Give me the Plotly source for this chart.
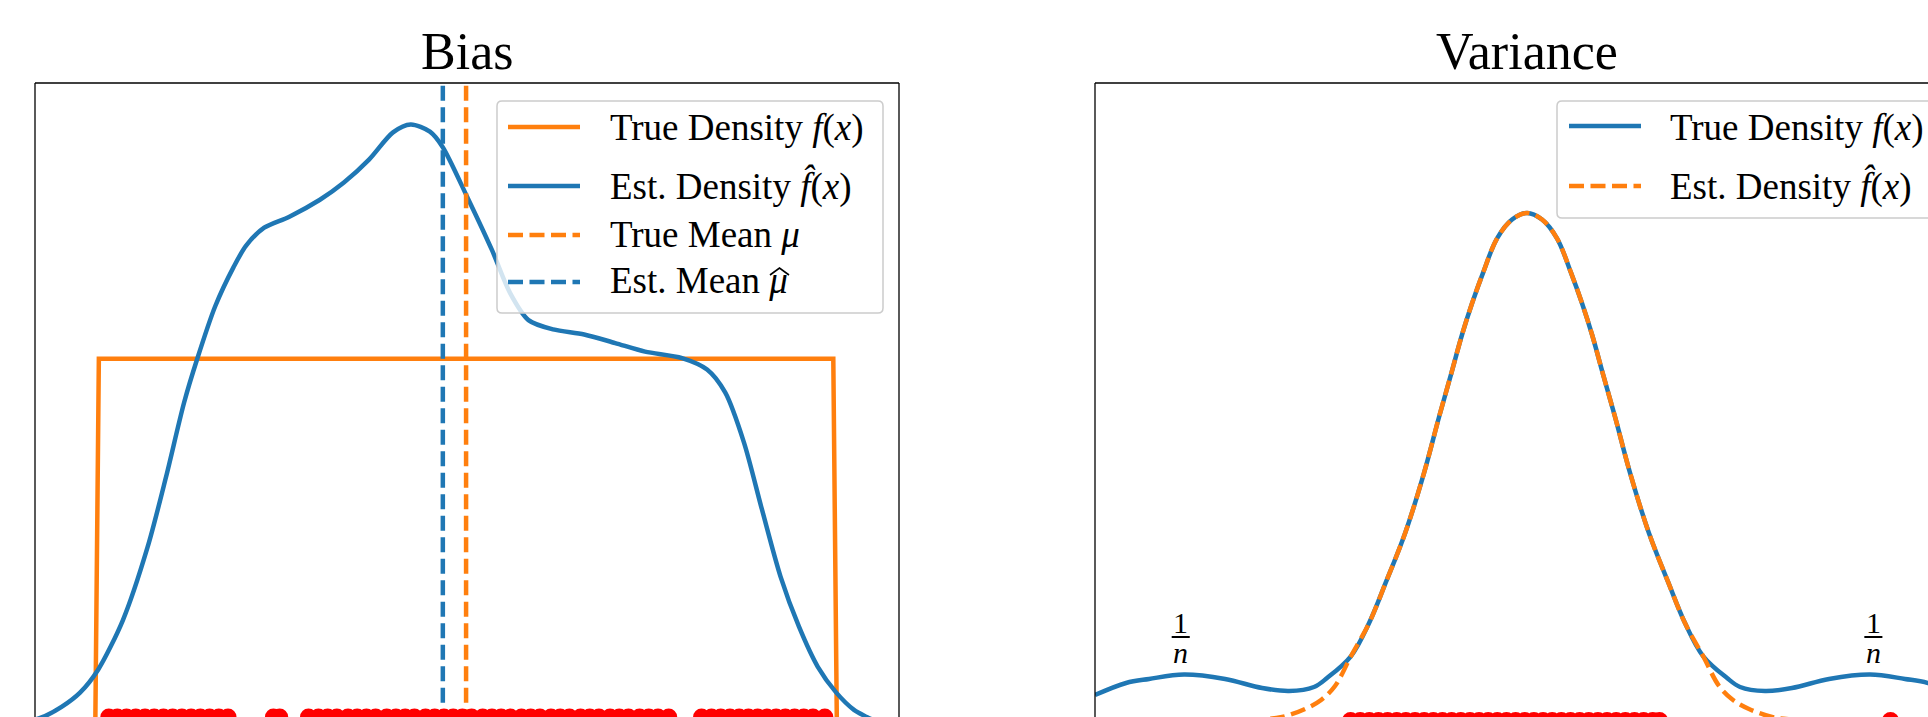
import plotly.graph_objects as go

W, H = 1928, 717
BLUE = "#1f77b4"
ORANGE = "#ff7f0e"
FONT = "Liberation Serif"

# ---------------- Bias panel data ----------------
bias_true_x = [-1.005, -0.995, 0.995, 1.005]
bias_true_y = [-0.03, 0.5, 0.5, -0.03]

bias_kde_x = [-1.17, -1.138, -1.096, -1.046, -0.997, -0.930, -0.863, -0.813, -0.764, -0.729,
              -0.680, -0.630, -0.596, -0.547, -0.480, -0.396, -0.331, -0.263, -0.198, -0.150,
              -0.098, -0.064, 0.003, 0.070, 0.119, 0.169, 0.236, 0.320, 0.404, 0.485,
              0.585, 0.653, 0.702, 0.753, 0.802, 0.852, 0.902, 0.953, 1.003, 1.051,
              1.086, 1.17]
bias_kde_y = [-0.004, 0.002, 0.014, 0.034, 0.066, 0.135, 0.237, 0.335, 0.439, 0.499,
              0.573, 0.628, 0.658, 0.683, 0.698, 0.722, 0.746, 0.778, 0.816, 0.827,
              0.817, 0.796, 0.726, 0.652, 0.592, 0.554, 0.541, 0.534, 0.522, 0.510,
              0.501, 0.485, 0.453, 0.383, 0.289, 0.196, 0.126, 0.070, 0.034, 0.010,
              0.000, -0.02]

true_mean = 0.0
est_mean = -0.063

bias_samples = [-0.968, -0.945, -0.92, -0.895, -0.87, -0.845, -0.82, -0.795, -0.77, -0.745,
                -0.72, -0.695, -0.67, -0.645,
                -0.522, -0.505,
                -0.427, -0.40, -0.375, -0.35, -0.32, -0.295, -0.27, -0.245, -0.215, -0.19,
                -0.165, -0.14, -0.11, -0.085, -0.06, -0.035, -0.01, 0.015, 0.045, 0.07,
                0.095, 0.12, 0.15, 0.175, 0.2, 0.23, 0.255, 0.28, 0.31, 0.335,
                0.36, 0.39, 0.415, 0.44, 0.47, 0.495, 0.52, 0.549,
                0.638, 0.665, 0.69, 0.715, 0.74, 0.765, 0.79, 0.815, 0.84, 0.865,
                0.89, 0.915, 0.94, 0.972]

# ---------------- Variance panel data ----------------
var_true_x = [-3.78, -3.508, -3.307, -3.001, -2.642, -2.318, -2.082, -1.864, -1.750, -1.540,
              -1.382, -1.234, -1.067, -0.901, -0.770, -0.665, -0.569, -0.481, -0.385, -0.262,
              -0.131, 0.0, 0.131, 0.262, 0.385, 0.481, 0.569, 0.665, 0.770, 0.901,
              1.067, 1.234, 1.382, 1.540, 1.750, 1.864, 2.082, 2.318, 2.642, 3.001,
              3.307, 3.508, 3.78]
var_true_y = [0.0502, 0.0739, 0.0818, 0.0906, 0.0818, 0.0640, 0.0581, 0.0660, 0.0837, 0.127,
              0.192, 0.273, 0.369, 0.488, 0.598, 0.682, 0.760, 0.822, 0.882, 0.950,
              0.987, 1.000, 0.987, 0.950, 0.882, 0.822, 0.760, 0.682, 0.598, 0.488,
              0.369, 0.273, 0.192, 0.127, 0.0837, 0.0660, 0.0581, 0.0640, 0.0818, 0.0906,
              0.0818, 0.0739, 0.0502]

var_est_x = [-3.0, -2.318, -2.143, -1.942, -1.802, -1.680, -1.540,
             -1.382, -1.234, -1.067, -0.901, -0.770, -0.665, -0.569, -0.481, -0.385, -0.262,
             -0.131, 0.0, 0.131, 0.262, 0.385, 0.481, 0.569, 0.665, 0.770, 0.901,
             1.067, 1.234, 1.382, 1.540, 1.680, 1.802, 1.942, 2.143, 2.318, 3.0]
var_est_y = [-0.002, 0.002, 0.0069, 0.0227, 0.0404, 0.068, 0.127,
             0.192, 0.273, 0.369, 0.488, 0.598, 0.682, 0.760, 0.822, 0.882, 0.950,
             0.987, 1.000, 0.987, 0.950, 0.882, 0.822, 0.760, 0.682, 0.598, 0.488,
             0.369, 0.273, 0.192, 0.127, 0.068, 0.0404, 0.0227, 0.0069, 0.002, -0.002]

var_samples = [-1.544, -1.46, -1.38, -1.30, -1.22, -1.14, -1.06, -0.98, -0.90, -0.82,
               -0.74, -0.66, -0.58, -0.50, -0.42, -0.34, -0.26, -0.18, -0.10, -0.02,
               0.06, 0.14, 0.22, 0.30, 0.38, 0.46, 0.54, 0.62, 0.70, 0.78,
               0.86, 0.94, 1.02, 1.10, 1.159, 3.18]
bump_centers = [-3.03, 3.03]

titles = ["Bias", "Variance"]
bias_legend = ["True Density <i>f</i>(<i>x</i>)",
               "Est. Density <i>f\u0302</i>(<i>x</i>)",
               "True Mean <i>\u03bc</i>",
               "Est. Mean <i>\u03bc</i>"]
var_legend = ["True Density <i>f</i>(<i>x</i>)",
              "Est. Density <i>f\u0302</i>(<i>x</i>)"]


def px(x):
    return x / W


def py(y):
    return 1 - y / H


LW = 4.5
DASH = "15px,6.5px"
LFS = 37  # legend font size

fig = go.Figure()

# Bias panel traces
fig.add_trace(go.Scatter(x=bias_true_x, y=bias_true_y, mode="lines",
                         line=dict(color=ORANGE, width=LW), xaxis="x", yaxis="y"))
fig.add_trace(go.Scatter(x=bias_kde_x, y=bias_kde_y, mode="lines",
                         line=dict(color=BLUE, width=LW, shape="spline", smoothing=0.8),
                         xaxis="x", yaxis="y"))
fig.add_trace(go.Scatter(x=[true_mean, true_mean], y=[-0.1, 1.0], mode="lines",
                         line=dict(color=ORANGE, width=LW, dash=DASH), xaxis="x", yaxis="y"))
fig.add_trace(go.Scatter(x=[est_mean, est_mean], y=[-0.1, 1.0], mode="lines",
                         line=dict(color=BLUE, width=LW, dash=DASH), xaxis="x", yaxis="y"))
fig.add_trace(go.Scatter(x=bias_samples, y=[0] * len(bias_samples), mode="markers",
                         marker=dict(color="red", size=17, line=dict(width=0)),
                         xaxis="x", yaxis="y"))

# Variance panel traces
fig.add_trace(go.Scatter(x=var_true_x, y=var_true_y, mode="lines",
                         line=dict(color=BLUE, width=LW, shape="spline", smoothing=1.0),
                         xaxis="x2", yaxis="y2"))
fig.add_trace(go.Scatter(x=var_est_x, y=var_est_y, mode="lines",
                         line=dict(color=ORANGE, width=LW, dash=DASH, shape="spline", smoothing=1.0),
                         xaxis="x2", yaxis="y2"))
fig.add_trace(go.Scatter(x=var_samples, y=[0] * len(var_samples), mode="markers",
                         marker=dict(color="red", size=17, line=dict(width=0)),
                         xaxis="x2", yaxis="y2"))

ydom = [0, py(83)]
axis_common = dict(showgrid=False, zeroline=False, showticklabels=False, ticks="",
                   showline=False)
fig.update_layout(
    width=W, height=H,
    margin=dict(l=0, r=0, t=0, b=0),
    paper_bgcolor="white", plot_bgcolor="white",
    showlegend=False,
    xaxis=dict(domain=[px(35), px(899)], range=[-1.168, 1.173], **axis_common),
    yaxis=dict(domain=ydom, range=[0, 0.885], **axis_common),
    xaxis2=dict(domain=[px(1095), 1.0], range=[-3.78, 3.508], **axis_common),
    yaxis2=dict(domain=ydom, range=[0.0069, 1.256], anchor="x2", **axis_common),
    font=dict(family=FONT, color="black"),
)

shapes = []
# frames (bottom edges lie outside the picture)
frame = dict(type="line", xref="paper", yref="paper", line=dict(color="black", width=1.3), layer="above")
shapes.append(dict(frame, x0=px(35), x1=px(899), y0=py(83), y1=py(83)))
shapes.append(dict(frame, x0=px(35), x1=px(35), y0=py(83), y1=py(740)))
shapes.append(dict(frame, x0=px(899), x1=px(899), y0=py(83), y1=py(740)))
shapes.append(dict(frame, x0=px(1095), x1=px(1960), y0=py(83), y1=py(83)))
shapes.append(dict(frame, x0=px(1095), x1=px(1095), y0=py(83), y1=py(740)))


def P(x, y):
    return f"{px(x):.6f},{py(y):.6f}"


def rounded_box(x0, y0, x1, y1, r=5):
    return (f"M {P(x0 + r, y0)} L {P(x1 - r, y0)} Q {P(x1, y0)} {P(x1, y0 + r)} "
            f"L {P(x1, y1 - r)} Q {P(x1, y1)} {P(x1 - r, y1)} "
            f"L {P(x0 + r, y1)} Q {P(x0, y1)} {P(x0, y1 - r)} "
            f"L {P(x0, y0 + r)} Q {P(x0, y0)} {P(x0 + r, y0)} Z")


legend_box = dict(type="path", xref="paper", yref="paper", layer="above",
                  fillcolor="rgba(255,255,255,0.8)", line=dict(color="#cccccc", width=1.5))
shapes.append(dict(legend_box, path=rounded_box(497, 101, 883, 313)))
shapes.append(dict(legend_box, path=rounded_box(1557, 101, 1945, 218)))

# legend handles
bias_handles = [(ORANGE, "solid", 127), (BLUE, "solid", 186), (ORANGE, DASH, 235), (BLUE, DASH, 282)]
for c, d, yy in bias_handles:
    shapes.append(dict(type="line", xref="paper", yref="paper", layer="above",
                       x0=px(508), x1=px(580), y0=py(yy), y1=py(yy),
                       line=dict(color=c, width=LW, dash=d)))
var_handles = [(BLUE, "solid", 126), (ORANGE, DASH, 186)]
for c, d, yy in var_handles:
    shapes.append(dict(type="line", xref="paper", yref="paper", layer="above",
                       x0=px(1569), x1=px(1641), y0=py(yy), y1=py(yy),
                       line=dict(color=c, width=LW, dash=d)))

# wide hat over mu in "Est. Mean"
shapes.append(dict(type="path", xref="paper", yref="paper", layer="above",
                   path=f"M {P(770, 275)} L {P(779.5, 268)} L {P(789, 275)}",
                   line=dict(color="black", width=1.6)))

# fraction bars 1/n
for bc in bump_centers:
    shapes.append(dict(type="line", xref="x2", yref="paper", layer="above",
                       x0=bc - 0.079, x1=bc + 0.079, y0=py(637), y1=py(637),
                       line=dict(color="black", width=2)))

annotations = []
for t, cx in zip(titles, [467, 1527]):
    annotations.append(dict(text=t, x=px(cx), y=py(51.5), xref="paper", yref="paper",
                            xanchor="center", yanchor="middle", showarrow=False,
                            font=dict(size=52, family=FONT, color="black")))

for txt, yy in zip(bias_legend, [127.5, 185.5, 234.5, 280.5]):
    annotations.append(dict(text=txt, x=px(608), y=py(yy), xref="paper", yref="paper",
                            xanchor="left", yanchor="middle", showarrow=False,
                            font=dict(size=LFS, family=FONT, color="black")))
for txt, yy in zip(var_legend, [127.5, 185.5]):
    annotations.append(dict(text=txt, x=px(1668), y=py(yy), xref="paper", yref="paper",
                            xanchor="left", yanchor="middle", showarrow=False,
                            font=dict(size=LFS, family=FONT, color="black")))

for bc in bump_centers:
    annotations.append(dict(text="1", x=bc, y=py(622), xref="x2", yref="paper",
                            xanchor="center", yanchor="middle", showarrow=False,
                            font=dict(size=30, family=FONT, color="black")))
    annotations.append(dict(text="<i>n</i>", x=bc, y=py(652), xref="x2", yref="paper",
                            xanchor="center", yanchor="middle", showarrow=False,
                            font=dict(size=30, family=FONT, color="black")))

fig.update_layout(shapes=shapes, annotations=annotations)
fig.write_html("out.html")
